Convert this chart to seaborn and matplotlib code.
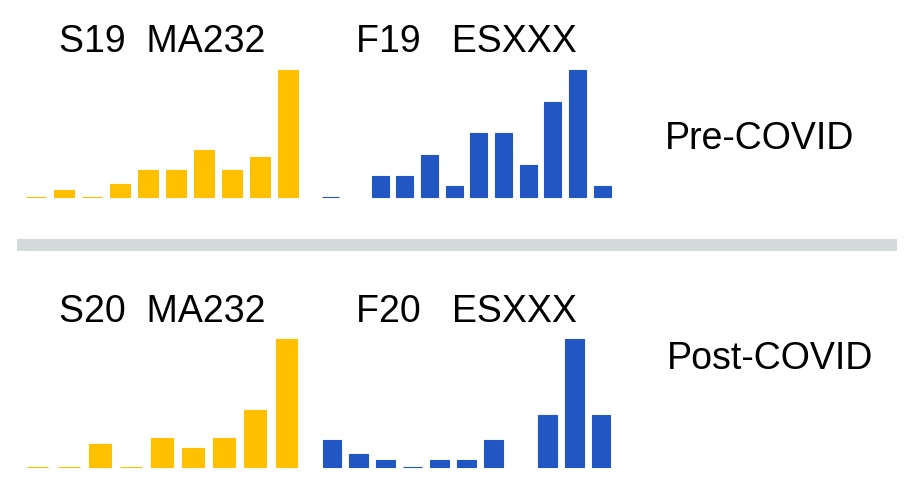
import numpy as np
import pandas as pd
import matplotlib
matplotlib.use('Agg')
import matplotlib.pyplot as plt
from matplotlib.lines import Line2D
import seaborn as sns

# counts per slot (nan = empty slot)
s19_ma232 = [0, 1, 0, 2, 4, 4, 7, 4, 6, 19]
f19_esxxx = [0, np.nan, 2, 2, 4, 1, 6, 6, 3, 9, 12, 1]
s20_ma232 = [0, 0, 4, 0, 5, 3.2, 5, 9.8, 22]
f20_esxxx = [4, 2, 1.1, 0, 1.1, 1.1, 4, np.nan, 7.7, 19, 7.7]

titles = ['S19  MA232', 'F19   ESXXX', 'S20  MA232', 'F20   ESXXX']
row_labels = ['Pre-COVID', 'Post-COVID']

yellow = '#FFC000'
blue = '#2256C3'

W, H = 914, 490
sns.set_style('white')
plt.rcParams['font.family'] = ['Liberation Sans', 'DejaVu Sans']

fig = plt.figure(figsize=(W / 100, H / 100), dpi=100)


def px_axes(left, top, right, bottom):
    return fig.add_axes([left / W, 1 - bottom / H, (right - left) / W, (bottom - top) / H])


def draw(ax, values, color):
    df = pd.DataFrame({'slot': range(len(values)), 'n': values})
    sns.barplot(data=df, x='slot', y='n', order=list(range(len(values))),
                color=color, saturation=1, width=0.7, edgecolor=color,
                linewidth=0.8, ax=ax)
    # let the zero bars show as a thin line on the baseline
    for p in ax.patches:
        p.set_clip_on(False)
    ax.set_xlim(-0.5, len(values) - 0.5)
    ax.set_ylim(0, np.nanmax(values))
    ax.set_axis_off()


draw(px_axes(22, 70, 302, 197), s19_ma232, yellow)
draw(px_axes(318.5, 70, 614.5, 197), f19_esxxx, blue)
draw(px_axes(22, 339, 302, 467), s20_ma232, yellow)
draw(px_axes(318.5, 339, 614.5, 467), f20_esxxx, blue)

fs = 27
txt = dict(fontsize=fs, va='baseline', color='black')
fig.text(59 / W, 1 - 51.5 / H, titles[0], **txt)
fig.text(356 / W, 1 - 51.5 / H, titles[1], **txt)
fig.text(59 / W, 1 - 321.5 / H, titles[2], **txt)
fig.text(356 / W, 1 - 321.5 / H, titles[3], **txt)
fig.text(665 / W, 1 - 149 / H, row_labels[0], **txt)
fig.text(667 / W, 1 - 369 / H, row_labels[1], **txt)

# grey divider between the two rows
fig.add_artist(Line2D([17 / W, 897 / W], [1 - 245 / H, 1 - 245 / H],
                      color='#D3DADC', linewidth=8.6, solid_capstyle='butt'))

fig.savefig('out.png', dpi=100)
